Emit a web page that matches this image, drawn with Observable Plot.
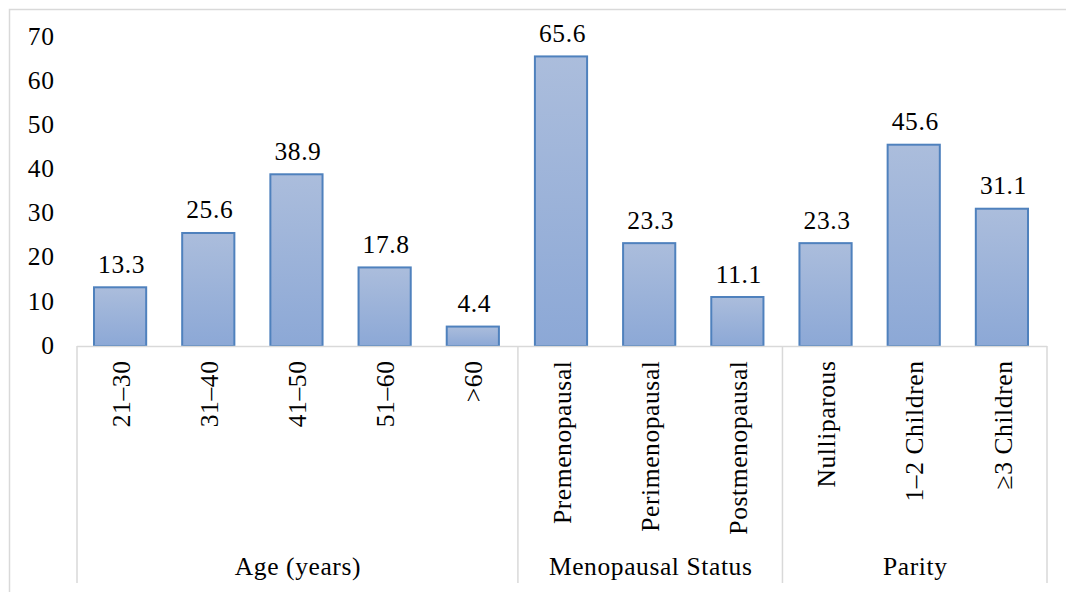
<!DOCTYPE html>
<html>
<head>
<meta charset="utf-8">
<script src="https://cdn.jsdelivr.net/npm/d3@7"></script>
<script src="https://cdn.jsdelivr.net/npm/@observablehq/plot@0.6"></script>
<style>
  html, body { margin: 0; padding: 0; background: #fff; }
  #chart svg { display: block; }
  #chart svg text { font-family: 'Liberation Serif', 'Times New Roman', serif; letter-spacing: 0.6px; }
</style>
</head>
<body>
<div id="chart"></div>
<script>
// ---- data ----
const categories = ["21–30", "31–40", "41–50", "51–60", ">60",
  "Premenopausal", "Perimenopausal", "Postmenopausal",
  "Nulliparous", "1–2 Children", "≥3 Children"];
const values = [13.3, 25.6, 38.9, 17.8, 4.4, 65.6, 23.3, 11.1, 23.3, 45.6, 31.1];
const groups = ["Age (years)", "Menopausal Status", "Parity"];
const groupSizes = [5, 3, 3];
const yTicks = [0, 10, 20, 30, 40, 50, 60, 70];

// ---- derived tables ----
const rows = categories.map((c, i) => ({ i, category: c, value: values[i] }));
const boundaries = [0];
groupSizes.forEach(s => boundaries.push(boundaries[boundaries.length - 1] + s));
const groupRows = groups.map((g, k) => ({ name: g, center: (boundaries[k] + boundaries[k + 1]) / 2 }));

const font = "'Liberation Serif', 'Times New Roman', serif";
const gridColor = "#d9d9d9";
const fs = 25.5;

function defs() {
  const d = d3.create("svg:defs");
  const lg = d.append("linearGradient").attr("id", "barGrad")
    .attr("x1", 0).attr("y1", 0).attr("x2", 0).attr("y2", 1);
  lg.append("stop").attr("offset", "0%").attr("stop-color", "#abbddc");
  lg.append("stop").attr("offset", "100%").attr("stop-color", "#8ca8d6");
  return d.node();
}

function border(index, scales, values, dims) {
  return d3.create("svg:rect")
    .attr("x", 9.5).attr("y", 9.5)
    .attr("width", dims.width).attr("height", dims.height)
    .attr("fill", "none").attr("stroke", gridColor).attr("stroke-width", 1.5)
    .node();
}

function separators(index, scales, values, dims) {
  const g = d3.create("svg:g").attr("stroke", gridColor).attr("stroke-width", 1.5);
  const y0 = scales.y(0);
  for (const b of boundaries) {
    g.append("line")
      .attr("x1", scales.x(b)).attr("x2", scales.x(b))
      .attr("y1", y0).attr("y2", dims.height - 9);
  }
  return g.node();
}

const chart = Plot.plot({
  width: 1066,
  height: 592,
  marginLeft: 77,
  marginRight: 19,
  marginTop: 37,
  marginBottom: 246,
  style: { fontFamily: font, fontSize: fs + "px", color: "#000", background: "#fff" },
  x: { type: "linear", domain: [0, categories.length], axis: null },
  y: { domain: [0, 70], axis: null },
  marks: [
    defs,
    border,
    Plot.axisY({ ticks: yTicks, tickSize: 0, tickPadding: 23, label: null, fontSize: fs, dy: -1 }),
    separators,
    Plot.rect(rows, {
      x1: "i", x2: d => d.i + 1, y1: 0, y2: "value",
      insetLeft: 17, insetRight: 19,
      fill: "url(#barGrad)", stroke: "#4f81bd", strokeWidth: 2
    }),
    Plot.ruleY([0], { stroke: gridColor, strokeWidth: 1.5 }),
    Plot.text(rows, {
      x: d => d.i + 0.5, y: "value", text: d => d.value.toFixed(1),
      lineAnchor: "bottom", dy: -15, fontSize: fs, fill: "#000"
    }),
    Plot.text(rows, {
      x: d => d.i + 0.5, y: 0, text: "category",
      rotate: -90, textAnchor: "end", lineAnchor: "middle",
      dy: 14, fontSize: fs, fill: "#000"
    }),
    Plot.text(groupRows, {
      x: "center", y: 0, text: "name",
      lineAnchor: "middle", dy: 220, fontSize: fs, fill: "#000"
    })
  ]
});

document.getElementById("chart").appendChild(chart);
</script>
</body>
</html>
